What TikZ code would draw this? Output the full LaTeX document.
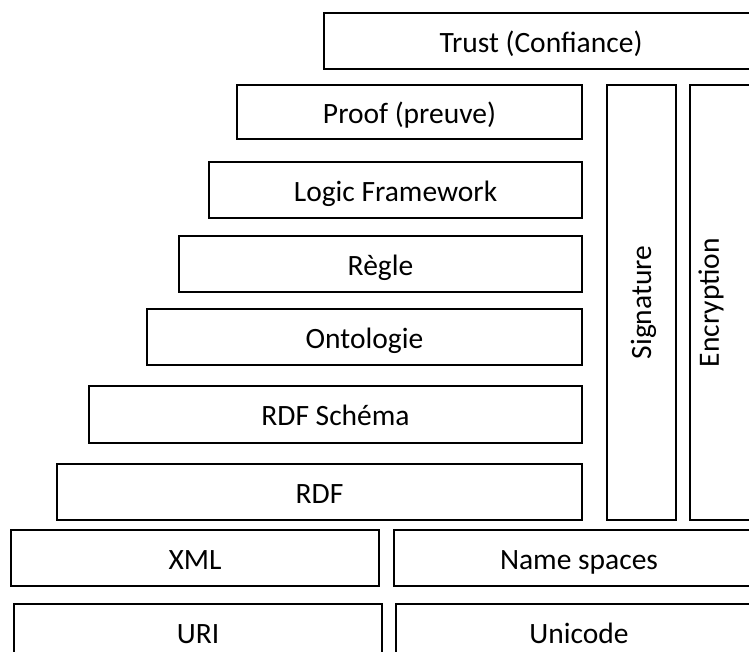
\documentclass[tikz,border=0pt]{standalone}
\usepackage{fontspec}
\setmainfont{Carlito}
\begin{document}
\begin{tikzpicture}[x=1pt,y=-1pt,
  box/.style={draw=black, line width=2pt, inner sep=0pt, outer sep=0pt, fill=white,
    text height=27pt, text depth=5pt,
    font=\fontsize{29.5}{35}\selectfont, text=black},
  vlabel/.style={inner sep=0pt, rotate=90, font=\fontsize{29.5}{35}\selectfont, text=black}]
\useasboundingbox (0,0) rectangle (749,651);
\clip (0,0) rectangle (749,651);
\node[box, minimum width=434pt, minimum height=56pt] (trust) at (541,41) {Trust (Confiance)};
\node[box, minimum width=345pt, minimum height=54pt] (proof) at (409.5,112) {Proof (preuve)};
\node[box, minimum width=373pt, minimum height=56pt] (logic) at (395.5,190) {Logic Framework};
\node[box, minimum width=403pt, minimum height=56pt] (regle) at (380.5,264) {Règle};
\node[box, minimum width=435pt, minimum height=56pt] (onto) at (364.5,337) {Ontologie};
\node[box, minimum width=493pt, minimum height=57pt] (rdfs) at (335.5,414.5) {RDF Schéma};
\node[box, minimum width=525pt, minimum height=56pt] (rdf) at (319.5,492) {RDF};
\node[box, minimum width=69pt, minimum height=435pt] (sig) at (641.5,302.5) {};
\node[vlabel] (sigt) at (643.5,302.5) {Signature};
\node[box, minimum width=110pt, minimum height=435pt] (enc) at (745,302.5) {};
\node[vlabel] (enct) at (711,302.5) {Encryption};
\node[box, minimum width=368pt, minimum height=56pt] (xml) at (195,558) {XML};
\node[box, minimum width=370pt, minimum height=56pt] (ns) at (579,558) {Name spaces};
\node[box, minimum width=368pt, minimum height=56pt] (uri) at (198,632) {URI};
\node[box, minimum width=366pt, minimum height=56pt] (uni) at (579,632) {Unicode};
\end{tikzpicture}
\end{document}
